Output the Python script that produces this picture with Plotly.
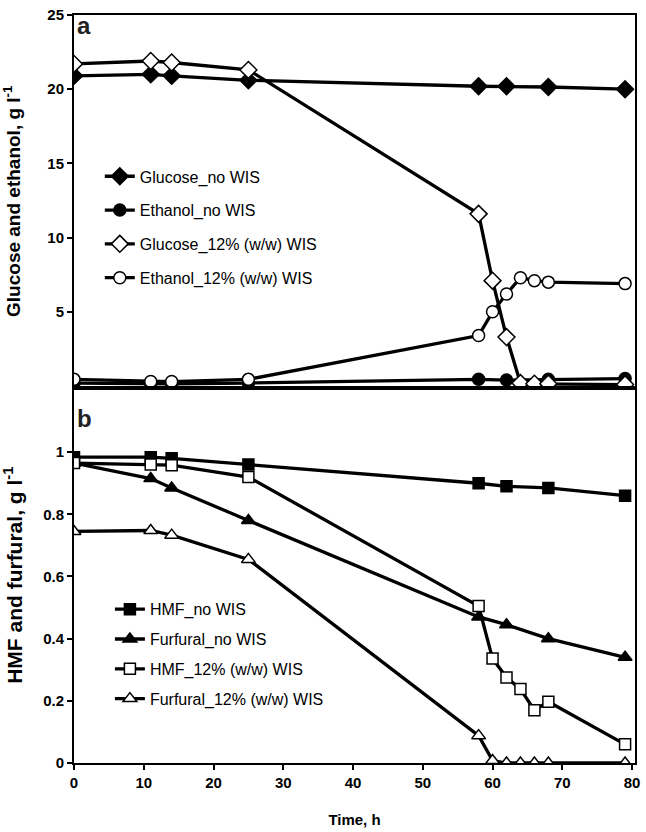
import plotly.graph_objects as go
from plotly.subplots import make_subplots

# ---- data ----
t_full = [0, 11, 14, 25, 58, 60, 62, 64, 66, 68, 79]
t_no = [0, 11, 14, 25, 58, 62, 68, 79]

glucose_no = [20.9, 21.0, 20.9, 20.6, 20.2, 20.2, 20.15, 20.0]
ethanol_no = [0.2, 0.15, 0.15, 0.2, 0.45, 0.4, 0.45, 0.5]
glucose_12 = [21.7, 21.9, 21.8, 21.3, 11.6, 7.1, 3.3, 0.2, 0.15, 0.15, 0.1]
ethanol_12 = [0.45, 0.3, 0.3, 0.45, 3.4, 5.0, 6.2, 7.3, 7.1, 7.0, 6.9]

hmf_no = [0.984, 0.984, 0.98, 0.96, 0.90, 0.89, 0.885, 0.86]
furfural_no = [0.965, 0.915, 0.885, 0.78, 0.47, 0.445, 0.40, 0.34]
hmf_12 = [0.965, 0.96, 0.958, 0.92, 0.505, 0.336, 0.275, 0.238, 0.17, 0.197, 0.06]
furfural_12 = [0.745, 0.748, 0.733, 0.655, 0.088, 0.008, 0.0, 0.0, 0.0, 0.0, 0.0]

top_ticks = [5, 10, 15, 20, 25]
bottom_ticks = [0, 0.2, 0.4, 0.6, 0.8, 1]
bottom_ticktext = ["0", "0.2", "0.4", "0.6", "0.8", "1"]
x_ticks = [0, 10, 20, 30, 40, 50, 60, 70, 80]

FONT = "Liberation Sans, Arial, sans-serif"
BLACK = "#000000"

fig = make_subplots(rows=2, cols=1, shared_xaxes=False, vertical_spacing=0)

def add(x, y, name, symbol, filled, size, row, legend, group):
    fig.add_trace(go.Scatter(
        x=x, y=y, name=name, mode="lines+markers",
        line=dict(color=BLACK, width=3.3),
        marker=dict(symbol=symbol, size=size,
                    color=BLACK if filled else "white",
                    line=dict(color=BLACK, width=1.5)),
        legend=legend, legendgroup=group,
    ), row=row, col=1)

add(t_no, glucose_no, "Glucose_no WIS", "diamond", True, 13, 1, "legend", "a1")
add(t_no, ethanol_no, "Ethanol_no WIS", "circle", True, 12, 1, "legend", "a2")
add(t_full, glucose_12, "Glucose_12% (w/w) WIS", "diamond", False, 13, 1, "legend", "a3")
add(t_full, ethanol_12, "Ethanol_12% (w/w) WIS", "circle", False, 12, 1, "legend", "a4")

add(t_no, hmf_no, "HMF_no WIS", "square", True, 11, 2, "legend2", "b1")
add(t_no, furfural_no, "Furfural_no WIS", "triangle-up", True, 12, 2, "legend2", "b2")
add(t_full, hmf_12, "HMF_12% (w/w) WIS", "square", False, 11, 2, "legend2", "b3")
add(t_full, furfural_12, "Furfural_12% (w/w) WIS", "triangle-up", False, 12, 2, "legend2", "b4")

axis_common = dict(showline=True, linecolor=BLACK, linewidth=2, mirror=True,
                   showgrid=False, zeroline=False, ticklabeloverflow="allow",
                   tickfont=dict(family=FONT, size=15, color=BLACK, weight="bold"))

fig.update_xaxes(range=[0, 80.42], domain=[0, 1], **axis_common)
fig.update_xaxes(row=1, col=1, showticklabels=False, ticks="")
fig.update_xaxes(row=2, col=1, tickvals=x_ticks, ticks="outside", ticklen=5,
                 tickwidth=2, tickcolor=BLACK,
                 title=dict(text="<b>Time, h</b>", standoff=24,
                            font=dict(family=FONT, size=15, color=BLACK)))

fig.update_yaxes(row=1, col=1, range=[-0.1, 25], domain=[0.502, 1],
                 tickvals=top_ticks, ticks="outside", ticklen=5, tickwidth=2,
                 tickcolor=BLACK,
                 title=dict(text="<b>Glucose and ethanol, g l<sup>-1</sup></b>",
                            standoff=22, font=dict(family=FONT, size=19, color=BLACK)),
                 **axis_common)
fig.update_yaxes(row=2, col=1, range=[0, 1.208], domain=[0, 0.502],
                 tickvals=bottom_ticks, ticktext=bottom_ticktext,
                 ticks="outside", ticklen=5, tickwidth=2, tickcolor=BLACK,
                 title=dict(text="<b>HMF and furfural, g l<sup>-1</sup></b>",
                            standoff=22, font=dict(family=FONT, size=21, color=BLACK)),
                 **axis_common)

legend_common = dict(bgcolor="rgba(0,0,0,0)", borderwidth=0,
                     font=dict(family=FONT, size=16, color=BLACK),
                     itemwidth=30,
                     xanchor="left", yanchor="top", xref="paper", yref="paper")

fig.update_layout(
    width=646, height=832,
    margin=dict(l=64, r=6, t=7, b=67),
    plot_bgcolor="white", paper_bgcolor="white",
    font=dict(family=FONT, color=BLACK),
    showlegend=True,
    legend=dict(x=0.046, y=0.807, tracegroupgap=10, **legend_common),
    legend2=dict(x=0.064, y=0.2282, tracegroupgap=6, **legend_common),
    annotations=[
        dict(text="<b>a</b>", x=0.002, y=1.0066, xref="paper", yref="paper",
             xanchor="left", yanchor="top", showarrow=False,
             font=dict(family=FONT, size=24, color="#222222")),
        dict(text="<b>b</b>", x=0.002, y=0.4813, xref="paper", yref="paper",
             xanchor="left", yanchor="top", showarrow=False,
             font=dict(family=FONT, size=24, color="#222222")),
    ],
)

fig.write_html("out.html", config={"displayModeBar": False},
               post_script="document.body.style.margin='0';document.body.style.overflow='hidden';")
